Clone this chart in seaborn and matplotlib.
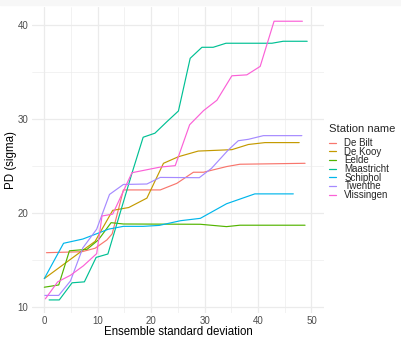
import matplotlib
matplotlib.use("Agg")
import matplotlib.pyplot as plt
from matplotlib.patches import Rectangle
import seaborn as sns
import pandas as pd

stations = ["De Bilt", "De Kooy", "Eelde", "Maastricht", "Schiphol", "Twenthe", "Vlissingen"]
colors = ["#F8766D", "#C49A00", "#53B400", "#00C094", "#00B6EB", "#A58AFF", "#FB61D7"]

debilt_x = [0.4, 7.0, 9.5, 11.7, 12.7, 14.8, 21.7, 24.8, 27.9, 29.8, 34.1, 36.6, 48.8]
debilt_y = [15.8, 15.9, 16.27, 17.15, 17.8, 22.47, 22.47, 23.17, 24.35, 24.35, 24.95, 25.2, 25.3]

dekooy_x = [0.0, 7.3, 9.5, 12.8, 15.8, 19.2, 22.3, 25.1, 28.8, 35.1, 38.2, 41.3, 47.7]
dekooy_y = [13.05, 16.1, 17.0, 20.3, 20.6, 21.6, 25.3, 26.0, 26.6, 26.75, 27.3, 27.5, 27.5]

eelde_x = [0.0, 2.7, 4.7, 8.0, 10.1, 12.5, 14.8, 29.2, 34.1, 36.6, 48.8]
eelde_y = [12.13, 12.37, 16.0, 16.16, 17.15, 18.99, 18.85, 18.82, 18.57, 18.72, 18.72]

maas_x = [0.9, 2.8, 5.2, 7.5, 9.7, 11.9, 16.4, 18.5, 20.7, 22.9, 25.1, 27.3, 29.5, 31.6, 34.0, 42.6, 44.7, 49.2]
maas_y = [10.78, 10.78, 12.6, 12.7, 15.3, 15.66, 24.24, 28.07, 28.5, 29.7, 30.86, 36.46, 37.63, 37.63, 38.06, 38.06, 38.27, 38.27]

schip_x = [0.0, 3.6, 7.2, 10.2, 12.0, 14.8, 18.5, 21.5, 25.5, 29.2, 34.1, 39.4, 46.6]
schip_y = [13.05, 16.8, 17.25, 17.9, 18.3, 18.6, 18.6, 18.7, 19.2, 19.45, 21.0, 22.05, 22.05]

twen_x = [0.1, 2.7, 4.9, 7.2, 9.8, 12.2, 14.8, 19.2, 21.7, 29.0, 31.3, 34.4, 36.3, 38.2, 41.0, 48.2]
twen_y = [11.26, 11.26, 12.8, 16.3, 18.3, 21.99, 23.05, 23.1, 23.8, 23.77, 24.77, 26.7, 27.7, 27.85, 28.24, 28.24]

vlis_x = [0.2, 2.5, 4.9, 7.3, 9.8, 10.8, 12.8, 16.4, 21.7, 24.5, 27.2, 29.8, 32.3, 35.1, 37.9, 40.4, 43.0, 48.3]
vlis_y = [10.9, 12.7, 13.4, 14.4, 15.7, 19.7, 19.9, 24.3, 24.9, 25.05, 29.4, 30.9, 32.0, 34.6, 34.7, 35.6, 40.4, 40.4]

x_ticks = [0, 10, 20, 30, 40, 50]
y_ticks = [10, 20, 30, 40]

series = {
    "De Bilt": (debilt_x, debilt_y),
    "De Kooy": (dekooy_x, dekooy_y),
    "Eelde": (eelde_x, eelde_y),
    "Maastricht": (maas_x, maas_y),
    "Schiphol": (schip_x, schip_y),
    "Twenthe": (twen_x, twen_y),
    "Vlissingen": (vlis_x, vlis_y),
}
rows = []
for name, (xs, ys) in series.items():
    for xv, yv in zip(xs, ys):
        rows.append({"sd": xv, "pd": yv, "Station name": name})
df = pd.DataFrame(rows)

sns.set_theme(style="white")
plt.rcParams["font.family"] = ["Liberation Sans", "DejaVu Sans"]

fig = plt.figure(figsize=(4.02, 3.37), dpi=100)
fig.patches.append(Rectangle((0, 1 - 5 / 337), 1, 5 / 337, transform=fig.transFigure,
                             color="#f7f7f7", zorder=0))
ax = fig.add_axes([31.7 / 402, 24 / 337, (324.3 - 31.7) / 402, (313 - 7.3) / 337])

sns.lineplot(data=df, x="sd", y="pd", hue="Station name", hue_order=stations,
             palette=colors, estimator=None, sort=False, linewidth=0.85, ax=ax)

ax.set_xlim(-2.36, 52.4)
ax.set_ylim(9.39, 41.88)
ax.set_xticks(x_ticks)
ax.set_yticks(y_ticks)
ax.set_xticks([5, 15, 25, 35, 45], minor=True)
ax.set_yticks([15, 25, 35], minor=True)
ax.grid(True, which="major", color="#ebebeb", linewidth=0.9)
ax.grid(True, which="minor", color="#ebebeb", linewidth=0.45)
ax.set_axisbelow(True)
for s in ax.spines.values():
    s.set_visible(False)
ax.tick_params(axis="both", which="both", length=0, labelsize=7, labelcolor="#4d4d4d", pad=2.5)
ax.set_xlabel("Ensemble standard deviation", fontsize=8.3, color="black", labelpad=0)
ax.set_ylabel("PD (sigma)", fontsize=8.3, color="black", labelpad=0)

leg = ax.legend(title="Station name", loc="upper left",
                bbox_to_anchor=(329 / 402, 1 - 124 / 337), bbox_transform=fig.transFigure,
                frameon=False, fontsize=7.0, title_fontsize=8.1, handlelength=0.68,
                handletextpad=0.9, labelspacing=-0.14, borderpad=0, borderaxespad=0)
leg._legend_box.align = "left"
leg._legend_box.sep = 3
for line in leg.get_lines():
    line.set_linewidth(0.9)

fig.savefig("out.png", dpi=100)
